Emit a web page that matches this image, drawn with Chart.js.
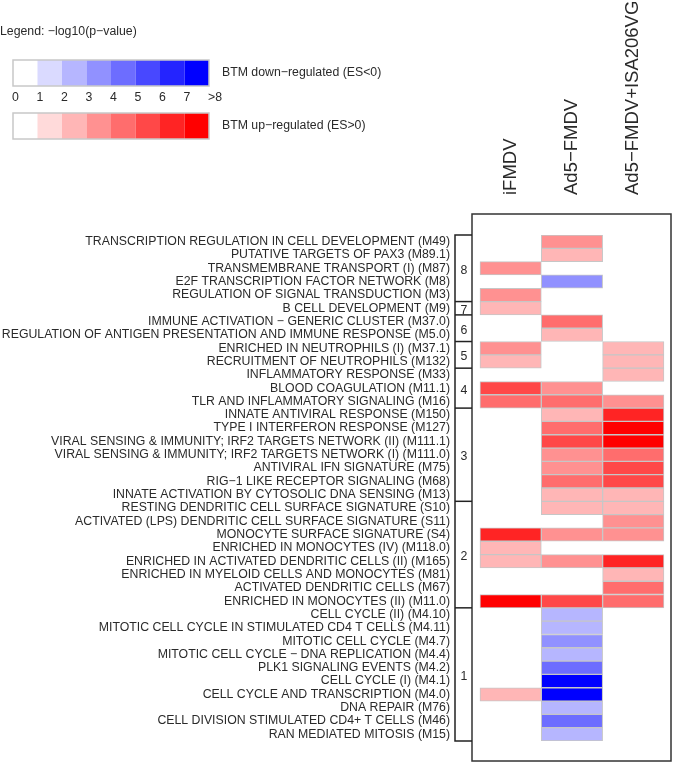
<!DOCTYPE html>
<html>
<head>
<meta charset="utf-8">
<script src="https://cdn.jsdelivr.net/npm/chart.js@4.4.1/dist/chart.umd.min.js"></script>
<style>
  html, body { margin: 0; padding: 0; background: #fff; }
  #wrap { width: 673px; height: 763px; position: relative; }
</style>
</head>
<body>
<div id="wrap"><canvas id="myChart" width="673" height="763"></canvas></div>
<script>
// heatmap columns (vaccine groups)
const columns = ["iFMDV", "Ad5\u2212FMDV", "Ad5\u2212FMDV+ISA206VG"];

// rows (blood transcription modules), top to bottom
const modules = [
  "TRANSCRIPTION REGULATION IN CELL DEVELOPMENT (M49)",
  "PUTATIVE TARGETS OF PAX3 (M89.1)",
  "TRANSMEMBRANE TRANSPORT (I) (M87)",
  "E2F TRANSCRIPTION FACTOR NETWORK (M8)",
  "REGULATION OF SIGNAL TRANSDUCTION (M3)",
  "B CELL DEVELOPMENT (M9)",
  "IMMUNE ACTIVATION \u2212 GENERIC CLUSTER (M37.0)",
  "REGULATION OF ANTIGEN PRESENTATION AND IMMUNE RESPONSE (M5.0)",
  "ENRICHED IN NEUTROPHILS (I) (M37.1)",
  "RECRUITMENT OF NEUTROPHILS (M132)",
  "INFLAMMATORY RESPONSE (M33)",
  "BLOOD COAGULATION (M11.1)",
  "TLR AND INFLAMMATORY SIGNALING (M16)",
  "INNATE ANTIVIRAL RESPONSE (M150)",
  "TYPE I INTERFERON RESPONSE (M127)",
  "VIRAL SENSING & IMMUNITY; IRF2 TARGETS NETWORK (II) (M111.1)",
  "VIRAL SENSING & IMMUNITY; IRF2 TARGETS NETWORK (I) (M111.0)",
  "ANTIVIRAL IFN SIGNATURE (M75)",
  "RIG\u22121 LIKE RECEPTOR SIGNALING (M68)",
  "INNATE ACTIVATION BY CYTOSOLIC DNA SENSING (M13)",
  "RESTING DENDRITIC CELL SURFACE SIGNATURE (S10)",
  "ACTIVATED (LPS) DENDRITIC CELL SURFACE SIGNATURE (S11)",
  "MONOCYTE SURFACE SIGNATURE (S4)",
  "ENRICHED IN MONOCYTES (IV) (M118.0)",
  "ENRICHED IN ACTIVATED DENDRITIC CELLS (II) (M165)",
  "ENRICHED IN MYELOID CELLS AND MONOCYTES (M81)",
  "ACTIVATED DENDRITIC CELLS (M67)",
  "ENRICHED IN MONOCYTES (II) (M11.0)",
  "CELL CYCLE (II) (M4.10)",
  "MITOTIC CELL CYCLE IN STIMULATED CD4 T CELLS (M4.11)",
  "MITOTIC CELL CYCLE (M4.7)",
  "MITOTIC CELL CYCLE \u2212 DNA REPLICATION (M4.4)",
  "PLK1 SIGNALING EVENTS (M4.2)",
  "CELL CYCLE (I) (M4.1)",
  "CELL CYCLE AND TRANSCRIPTION (M4.0)",
  "DNA REPAIR (M76)",
  "CELL DIVISION STIMULATED CD4+ T CELLS (M46)",
  "RAN MEDIATED MITOSIS (M15)"
];

// signed -log10(p): positive = up-regulated, negative = down-regulated, null = not significant
const iFMDV = [
  null, null, 3.5, null, 3.5, 2.5, null, null, 3.5, 2.5,
  null, 5.5, 4.5, null, null, null, null, null, null, null,
  null, null, 6.5, 2.5, 2.5, null, null, 7.5, null, null,
  null, null, null, null, 2.5, null, null, null
];
const ad5FMDV = [
  3.5, 2.5, null, -3.5, null, null, 4.5, 2.5, null, null,
  null, 3.5, 4.5, 2.5, 4.5, 5.5, 3.5, 3.5, 4.5, 2.5,
  2.5, null, 3.5, null, 3.5, null, null, 5.5, -2.5, -2.5,
  -3.5, -2.5, -4.5, -7.5, -7.5, -2.5, -4.5, -2.5
];
const ad5ISA = [
  null, null, null, null, null, null, null, null, 2.5, 2.5,
  2.5, null, 3.5, 6.5, 7.5, 7.5, 4.5, 5.5, 5.5, 2.5,
  2.5, 3.5, 3.5, null, 6.5, 2.5, 4.5, 4.5, null, null,
  null, null, null, null, null, null, null, null
];

// module clusters shown in the bracket column
const groupNames = ["8", "7", "6", "5", "4", "3", "2", "1"];
const groupSizes = [5, 1, 2, 2, 3, 7, 8, 10];

// colour legend
const legendTicks = ["0", "1", "2", "3", "4", "5", "6", "7", ">8"];
const upColors = ["#FFFFFF", "#FFDADA", "#FFB6B6", "#FF9191", "#FF6D6D", "#FF4848", "#FF2424", "#FF0000"];
const downColors = ["#FFFFFF", "#DADAFF", "#B6B6FF", "#9191FF", "#6D6DFF", "#4848FF", "#2424FF", "#0000FF"];

const FONT = "'Liberation Sans', Arial, Helvetica, sans-serif";
const INK = "#2a2a2a";

const colorFor = (v) => {
  if (v === null) return "rgba(0,0,0,0)";
  const bin = Math.min(7, Math.floor(Math.abs(v)));
  return v < 0 ? downColors[bin] : upColors[bin];
};

const series = [iFMDV, ad5FMDV, ad5ISA];

const datasets = series.map((values, c) => ({
  label: columns[c],
  data: values.map((v) => (v === null ? null : [c, c + 1])),
  backgroundColor: values.map(colorFor),
  borderColor: "#c6c6c6",
  borderWidth: 1,
  borderSkipped: false,
  grouped: false,
  categoryPercentage: 1,
  barPercentage: 1
}));

// draws legend, column headers, frame and cluster brackets
const decorations = {
  id: "decorations",
  afterDatasetsDraw(chart) {
    const ctx = chart.ctx;
    const area = chart.chartArea;
    const x = chart.scales.x;
    const y = chart.scales.y;
    const rowH = (area.bottom - area.top) / modules.length;
    ctx.save();

    // legend
    ctx.fillStyle = INK;
    ctx.font = "12.3px " + FONT;
    ctx.textBaseline = "middle";
    ctx.textAlign = "left";
    ctx.fillText("Legend: \u2212log10(p\u2212value)", 0, 32);
    const lx = 13, bw = 24.5, bh = 26;
    [[downColors, 60, "BTM down\u2212regulated (ES<0)"], [upColors, 113, "BTM up\u2212regulated (ES>0)"]].forEach(([cols, top, txt]) => {
      cols.forEach((col, i) => {
        ctx.fillStyle = col;
        ctx.fillRect(lx + i * bw, top, bw, bh);
      });
      ctx.strokeStyle = "#c8c8c8";
      ctx.lineWidth = 1.5;
      ctx.strokeRect(lx, top, bw * cols.length, bh);
      ctx.fillStyle = INK;
      ctx.textAlign = "left";
      ctx.fillText(txt, 222, top + bh / 2);
    });
    ctx.textAlign = "center";
    legendTicks.forEach((t, i) => {
      ctx.fillText(t, lx + i * bw + (i === legendTicks.length - 1 ? 6 : 2.5), 98);
    });

    // column headers
    ctx.font = "18.5px " + FONT;
    ctx.textAlign = "left";
    columns.forEach((name, c) => {
      ctx.save();
      ctx.translate(x.getPixelForValue(c + 0.5), 195);
      ctx.rotate(-Math.PI / 2);
      ctx.fillText(name, 0, 0);
      ctx.restore();
    });

    // frame around heatmap
    ctx.strokeStyle = "#333";
    ctx.lineWidth = 1.5;
    ctx.strokeRect(area.left, area.top - 21, area.right - area.left, area.bottom - area.top + 41);

    // cluster brackets
    const bx = area.left - 17;
    ctx.strokeStyle = "#222";
    ctx.beginPath();
    ctx.moveTo(area.left, area.top);
    ctx.lineTo(bx, area.top);
    ctx.lineTo(bx, area.bottom);
    ctx.lineTo(area.left, area.bottom);
    ctx.stroke();
    ctx.font = "12.3px " + FONT;
    ctx.textAlign = "center";
    ctx.fillStyle = INK;
    let start = 0;
    groupSizes.forEach((n, g) => {
      const top = y.getPixelForValue(start) - rowH / 2;
      const bottom = y.getPixelForValue(start + n - 1) + rowH / 2;
      if (start > 0) {
        ctx.beginPath();
        ctx.moveTo(bx, top);
        ctx.lineTo(area.left, top);
        ctx.stroke();
      }
      ctx.fillText(groupNames[g], bx + 9, (top + bottom) / 2 + 2);
      start += n;
    });
    ctx.restore();
  }
};

new Chart(document.getElementById("myChart"), {
  type: "bar",
  data: { labels: modules, datasets: datasets },
  options: {
    indexAxis: "y",
    responsive: false,
    animation: false,
    layout: { padding: { top: 235, bottom: 22, left: 0, right: 2 } },
    scales: {
      x: { type: "linear", min: -0.13, max: 3.115, display: false },
      y: {
        type: "category",
        offset: true,
        grid: { display: false, drawTicks: false },
        border: { display: false },
        ticks: {
          color: INK,
          padding: 22,
          autoSkip: false,
          font: { size: 12.3, family: FONT }
        },
        afterFit: (scale) => {
          scale.width = 472;
          scale.paddingTop = 0;
          scale.paddingBottom = 0;
        }
      }
    },
    plugins: { legend: { display: false }, tooltip: { enabled: false } }
  },
  plugins: [decorations]
});
</script>
</body>
</html>
